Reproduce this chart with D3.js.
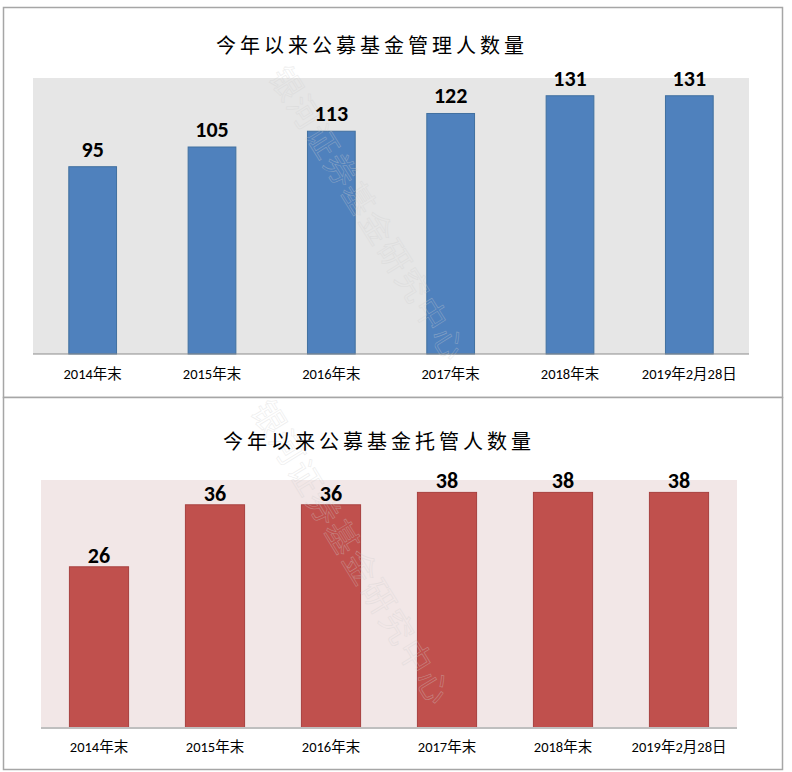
<!DOCTYPE html>
<html>
<head>
<meta charset="utf-8">
<script src="https://cdn.jsdelivr.net/npm/d3@7/dist/d3.min.js"></script>
<style>
  html, body { margin: 0; padding: 0; background: #ffffff; }
  svg { display: block; }
</style>
</head>
<body>
<div id="chart"></div>
<script>
const categories = ["2014年末", "2015年末", "2016年末", "2017年末", "2018年末", "2019年2月28日"];
const managerCounts = [95, 105, 113, 122, 131, 131];
const custodianCounts = [26, 36, 36, 38, 38, 38];
const titles = ["今年以来公募基金管理人数量", "今年以来公募基金托管人数量"];
const watermark = "银河证券基金研究中心";

const W = 792, H = 772;
const svg = d3.select("#chart").append("svg").attr("width", W).attr("height", H);

// panel frames
svg.append("rect").attr("x", 3.5).attr("y", 7.5).attr("width", 779).attr("height", 390)
  .attr("fill", "#fff").attr("stroke", "#a6a6a6").attr("stroke-width", 1.5);
svg.append("rect").attr("x", 3.5).attr("y", 397.5).attr("width", 779).attr("height", 372)
  .attr("fill", "#fff").attr("stroke", "#a6a6a6").attr("stroke-width", 1.5);

function panel(cfg) {
  const g = svg.append("g");
  const x = d3.scaleBand().domain(categories).range([cfg.x0, cfg.x1]).paddingInner(cfg.pad).paddingOuter(cfg.pad / 2);
  const y = d3.scaleLinear().domain([0, cfg.max]).range([cfg.yb, cfg.yt]);

  g.append("rect").attr("x", cfg.x0).attr("y", cfg.yt).attr("width", cfg.x1 - cfg.x0).attr("height", cfg.yb - cfg.yt)
    .attr("fill", cfg.bg);

  g.selectAll("rect.bar").data(cfg.values).join("rect").attr("class", "bar")
    .attr("x", (d, i) => x(categories[i]))
    .attr("y", d => y(d))
    .attr("width", x.bandwidth())
    .attr("height", d => cfg.yb - y(d))
    .attr("fill", cfg.color).attr("stroke", cfg.stroke).attr("stroke-width", 1);

  // baseline axis
  const axis = d3.axisBottom(x).tickSize(0).tickPadding(cfg.tickPad);
  const ax = g.append("g").attr("transform", `translate(0,${cfg.yb})`).call(axis);
  ax.select(".domain").attr("stroke", cfg.axisColor).attr("stroke-width", cfg.axisW).attr("d", `M${cfg.x0},0H${cfg.x1}`);
  ax.selectAll("text").attr("font-family", "Carlito, 'Liberation Sans Narrow', 'Noto Sans CJK SC', sans-serif")
    .attr("font-size", 14.5).attr("fill", "#000");

  // watermark (drawn over the bars, faint outline)
  g.append("text")
    .attr("transform", `translate(${cfg.wm[0]},${cfg.wm[1]}) rotate(${cfg.wm[2]})`)
    .attr("font-family", "'Noto Sans CJK SC', sans-serif")
    .attr("font-size", cfg.wm[3])
    .attr("letter-spacing", 2)
    .attr("fill", "none").attr("stroke", "#d0d0d0").attr("stroke-width", 0.6).attr("opacity", 0.4)
    .text(watermark);

  g.selectAll("text.val").data(cfg.values).join("text").attr("class", "val")
    .attr("x", (d, i) => x(categories[i]) + x.bandwidth() / 2)
    .attr("y", d => y(d) - cfg.labOff)
    .attr("text-anchor", "middle")
    .attr("font-family", "Carlito, 'Liberation Sans', Arial, sans-serif")
    .attr("font-weight", "bold").attr("font-size", 22).attr("fill", "#000")
    .text(d => d);

  g.append("text").attr("x", cfg.tx).attr("y", cfg.ty).attr("text-anchor", "middle")
    .attr("font-family", "'Noto Sans CJK SC', sans-serif").attr("font-size", 20)
    .attr("letter-spacing", 4).attr("fill", "#000")
    .text(cfg.title);
}

panel({
  values: managerCounts, title: titles[0], max: 140,
  x0: 33, x1: 749, yt: 78, yb: 354, pad: 0.6,
  bg: "#e6e6e6", color: "#4f81bd", stroke: "#41709f",
  axisColor: "#8c8c8c", axisW: 1.2, tickPad: 15, labOff: 10,
  tx: 372, ty: 53, wm: [268, 76, 58, 32]
});

panel({
  values: custodianCounts, title: titles[1], max: 40,
  x0: 41, x1: 737, yt: 480, yb: 728, pad: 0.49,
  bg: "#f2e7e7", color: "#c0504d", stroke: "#a8413f",
  axisColor: "#bfbfbf", axisW: 2, tickPad: 14, labOff: 4,
  tx: 379, ty: 449, wm: [250, 410, 58.5, 33]
});
</script>
</body>
</html>
